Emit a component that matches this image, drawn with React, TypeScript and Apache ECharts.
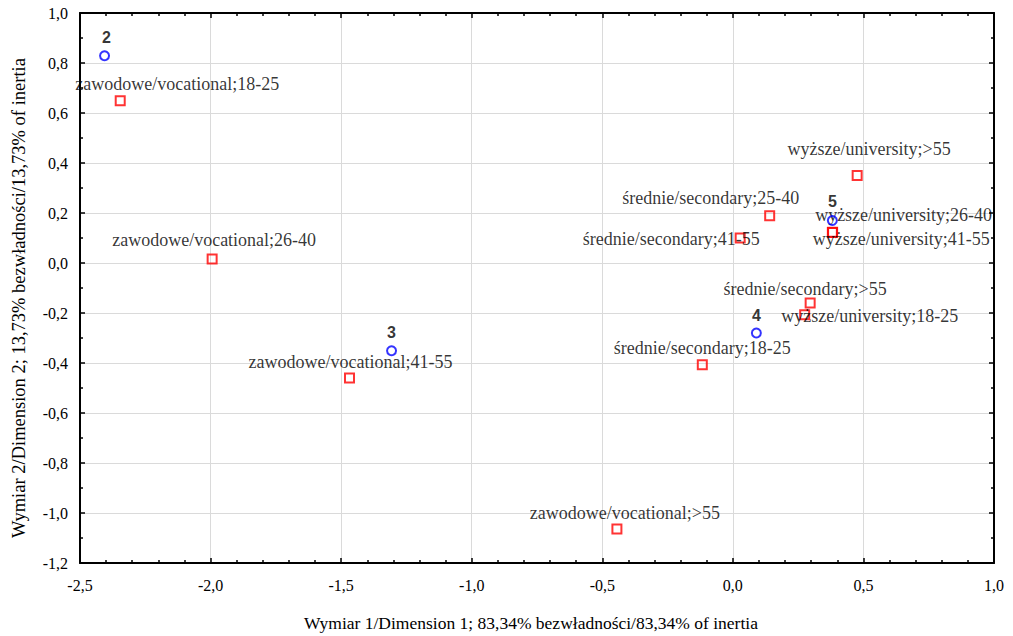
import React, { useEffect, useRef } from "react";
import * as echarts from "echarts";

// Row points (education;age) – red squares
const rowLabels = [
  "zawodowe/vocational;18-25",
  "zawodowe/vocational;26-40",
  "zawodowe/vocational;41-55",
  "zawodowe/vocational;>55",
  "średnie/secondary;18-25",
  "średnie/secondary;25-40",
  "średnie/secondary;41-55",
  "średnie/secondary;>55",
  "wyższe/university;18-25",
  "wyższe/university;26-40",
  "wyższe/university;41-55",
  "wyższe/university;>55",
];
const rowX = [-2.346, -1.994, -1.468, -0.444, -0.117, 0.141, 0.028, 0.296, 0.275, 0.382, 0.381, 0.476];
const rowY = [0.649, 0.016, -0.46, -1.064, -0.407, 0.189, 0.1, -0.16, -0.207, 0.123, 0.122, 0.35];

// Column points – blue circles
const colLabels = ["2", "3", "4", "5"];
const colX = [-2.406, -1.307, 0.09, 0.381];
const colY = [0.829, -0.351, -0.28, 0.17];

// Axis settings
const xMin = -2.5;
const xMax = 1.0;
const xStep = 0.5;
const yMin = -1.2;
const yMax = 1.0;
const yStep = 0.2;

const xTitle = "Wymiar 1/Dimension 1; 83,34% bezwładności/83,34% of inertia";
const yTitle = "Wymiar 2/Dimension 2; 13,73% bezwładności/13,73% of inertia";

// label placement (pixel offsets from the marker centre)
const rowLabelOffsets = [
  [57, -17], [2, -19], [1, -16], [8, -16], [0, -17], [-59, -18],
  [-69, 1], [-5, -14], [65, 1], [71, -17], [69, 6], [12, -27],
];
const colLabelOffsets = [[2, -18], [0, -18], [0, -18], [0, -19]];

const serif = "Liberation Serif";
const fmt = (v: number) => v.toFixed(1).replace(".", ",");

export default function App() {
  const ref = useRef<HTMLDivElement>(null);
  useEffect(() => {
    if (!ref.current) return;
    const chart = echarts.init(ref.current, undefined, { renderer: "svg" });
    const axisLine = { show: true, onZero: false, lineStyle: { color: "#000", width: 2 } };
    const axisTick = { show: true, inside: true, length: 5, lineStyle: { color: "#000", width: 1.5 } };
    const minorTick = { show: true, length: 3, lineStyle: { color: "#000", width: 1.5 } };
    chart.setOption({
      animation: false,
      backgroundColor: "#fff",
      grid: { left: 80, top: 13, width: 914, height: 550, containLabel: false },
      xAxis: [
        {
          type: "value", position: "bottom", min: xMin, max: xMax, interval: xStep,
          axisLine, axisTick, minorTick: { ...minorTick, splitNumber: 5 },
          axisLabel: { formatter: fmt, fontFamily: serif, fontSize: 16, color: "#000", margin: 14 },
          splitLine: { show: true, lineStyle: { color: "#dadada", width: 1 } },
        },
        {
          type: "value", position: "top", min: xMin, max: xMax, interval: xStep,
          axisLine, axisTick, minorTick: { ...minorTick, splitNumber: 5 },
          axisLabel: { show: false }, splitLine: { show: false },
        },
      ],
      yAxis: [
        {
          type: "value", position: "left", min: yMin, max: yMax, interval: yStep,
          axisLine, axisTick, minorTick: { ...minorTick, splitNumber: 2 },
          axisLabel: { formatter: fmt, fontFamily: serif, fontSize: 16, color: "#000", margin: 12 },
          splitLine: { show: true, lineStyle: { color: "#dadada", width: 1 } },
        },
        {
          type: "value", position: "right", min: yMin, max: yMax, interval: yStep,
          axisLine, axisTick, minorTick: { ...minorTick, splitNumber: 2 },
          axisLabel: { show: false }, splitLine: { show: false },
        },
      ],
      graphic: [
        {
          type: "text", x: 531, y: 623,
          style: { text: xTitle, fontFamily: serif, fontSize: 17.5, fill: "#000", textAlign: "center", textVerticalAlign: "middle" },
        },
        {
          type: "text", x: 19, y: 298, rotation: Math.PI / 2,
          style: { text: yTitle, fontFamily: serif, fontSize: 18.5, fill: "#000", textAlign: "center", textVerticalAlign: "middle" },
        },
      ],
      series: [
        {
          type: "scatter",
          symbol: "rect",
          symbolSize: 9,
          itemStyle: { color: "rgba(0,0,0,0)", borderColor: "#ff0000", borderWidth: 2 },
          label: {
            show: true, position: "inside", formatter: (p: any) => p.name,
            fontFamily: serif, fontSize: 18, color: "#000",
          },
          emphasis: { disabled: true },
          data: rowLabels.map((n, i) => ({
            name: n, value: [rowX[i], rowY[i]],
            label: { offset: rowLabelOffsets[i] },
          })),
          z: 3,
        },
        {
          type: "scatter",
          symbol: "circle",
          symbolSize: 9,
          itemStyle: { color: "rgba(0,0,0,0)", borderColor: "#0000ff", borderWidth: 2 },
          label: {
            show: true, position: "inside", formatter: (p: any) => p.name,
            fontFamily: "Liberation Sans", fontSize: 16, fontWeight: "bold", color: "#000",
          },
          emphasis: { disabled: true },
          data: colLabels.map((n, i) => ({
            name: n, value: [colX[i], colY[i]],
            label: { offset: colLabelOffsets[i] },
          })),
          z: 4,
        },
      ],
    });
    return () => chart.dispose();
  }, []);
  return (
    <div
      ref={ref}
      style={{ position: "absolute", left: 0, top: 0, width: 1013, height: 636, background: "#fff" }}
    />
  );
}
